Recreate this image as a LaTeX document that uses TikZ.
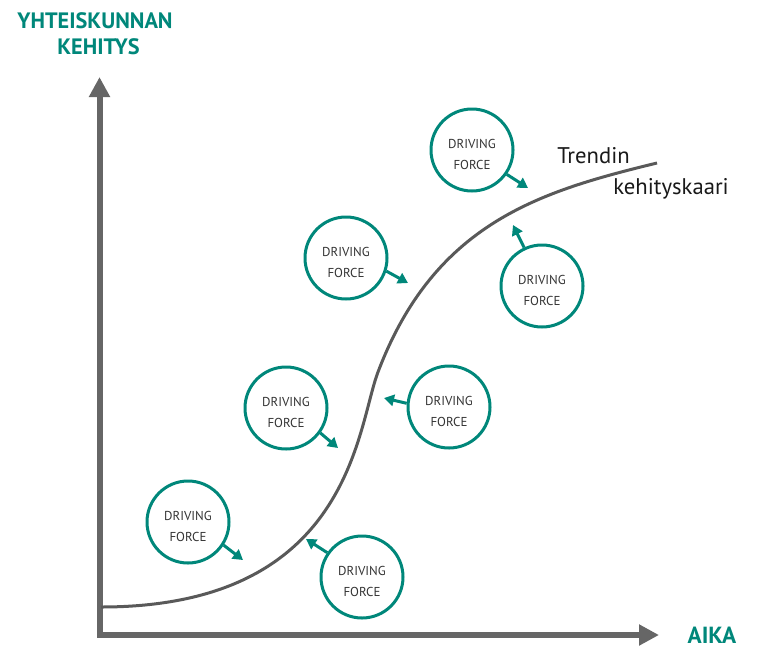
\documentclass[tikz,border=0pt]{standalone}
\usepackage{fontspec}
\setmainfont{PT Sans}
\usetikzlibrary{arrows.meta}
\definecolor{petrooli}{HTML}{00877A}
\definecolor{akseli}{HTML}{666666}
\definecolor{kaari}{HTML}{595959}

\begin{document}
\begin{tikzpicture}[x=0.75pt,y=-0.75pt,
  dftext/.style={align=center,inner sep=0pt,yshift=-3.5pt,text=black!80,font=\fontsize{9.7}{15.75}\selectfont},
  force/.style={draw=petrooli,circle,line width=2.25pt,minimum size=61.5pt,inner sep=0pt,label={[dftext]center:DRIVING\\FORCE}},
  push/.style={petrooli,line width=2.25pt,-{Triangle[length=7.5pt,width=8.5pt]}},
  axis/.style={akseli,line width=4.5pt,line join=miter,{Triangle[length=15pt,width=15pt]}-{Triangle[length=15pt,width=15pt]}},
  title/.style={text=petrooli,inner sep=0pt,anchor=base,font=\fontsize{16.7}{20}\selectfont\bfseries},
  note/.style={text=black!90,inner sep=0pt,anchor=base west,font=\fontsize{17}{20}\selectfont}]
\useasboundingbox (0,0) rectangle (762,657);

% akselit
\coordinate (ytip) at (99.5,77);
\coordinate (origo) at (99.5,635);
\coordinate (xtip) at (659,635);
\draw[axis] (ytip) -- (origo) -- (xtip);

\node[title] (yht) at (95,28) {YHTEISKUNNAN};
\node[title] (keh) at (98.5,54) {KEHITYS};
\node[title,font=\fontsize{17.5}{20}\selectfont\bfseries] (aika) at (712,643) {AIKA};

% trendin kaari
\coordinate (alku) at (101,607);
\coordinate (kaanne) at (378,372);
\coordinate (loppu) at (657,163);
\draw[kaari,line width=2.25pt] (alku) .. controls (351,607) and (356.7,428) .. (kaanne)
  .. controls (434.8,222.4) and (540.6,191.3) .. (loppu);
\node[note] (trendin) at (557,163) {Trendin};
\node[note] (kaarinimi) at (613,194) {kehityskaari};

% driving forces
\node[force] (df1) at (188,522) {};
\node[force] (df2) at (286,408) {};
\node[force] (df3) at (346,258) {};
\node[force] (df4) at (472,150) {};
\node[force] (df5) at (362,577) {};
\node[force] (df6) at (449,407) {};
\node[force] (df7) at (542,286) {};

\coordinate (t1) at (243,560);
\coordinate (t2) at (338,448);
\coordinate (t3) at (408,283);
\coordinate (t4) at (528,188);
\coordinate (t5) at (306,539);
\coordinate (t6) at (384,398);
\coordinate (t7) at (513,225);

\draw[push] (df1.-33) -- (t1);
\draw[push] (df2.-36) -- (t2);
\draw[push] (df3.-18) -- (t3);
\draw[push] (df4.-35) -- (t4);
\draw[push] (df5.145) -- (t5);
\draw[push] (df6.175) -- (t6);
\draw[push] (df7.115) -- (t7);
\end{tikzpicture}
\end{document}
